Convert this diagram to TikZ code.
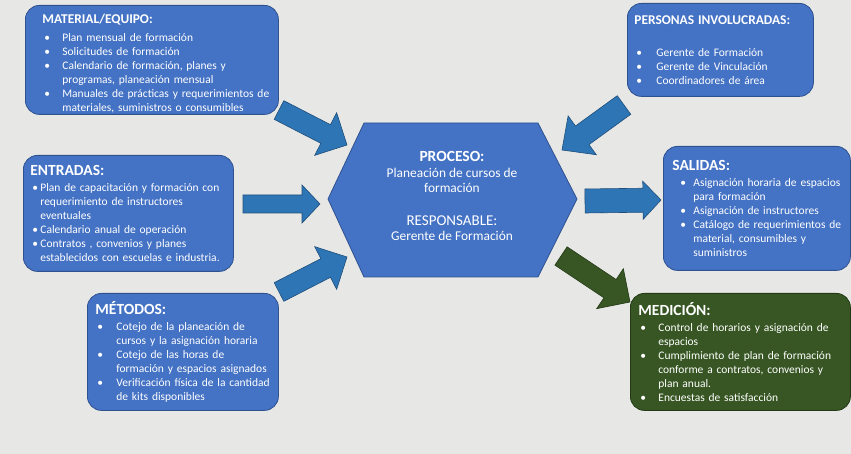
\documentclass[tikz,border=0pt]{standalone}
\usepackage{fontspec}
\setmainfont{Carlito}
\usetikzlibrary{calc}

\definecolor{fondo}{HTML}{E7E8E6}
\definecolor{azulcaja}{HTML}{4472C4}
\definecolor{bordecaja}{HTML}{2F528F}
\definecolor{azulflecha}{HTML}{2E75B6}
\definecolor{bordeflecha}{HTML}{1F4E79}
\definecolor{verde}{HTML}{375623}
\definecolor{bordeverde}{HTML}{243A16}

\newlength{\sangria}
\newcommand{\titulo}[4]{\leftskip=#1\relax\setlength{\sangria}{#2}{\fontsize{#3}{16}\selectfont\bfseries #4}\par\vspace{2pt}}
\newcommand{\punto}[1]{\noindent\hangindent=\sangria\hangafter=1\hbox to\sangria{\hspace{2pt}\textbullet\hfil}#1\par}
\newcommand{\flecha}[6]{%
  \coordinate (base) at ($(#3)!#6!(#2)$);
  \draw[#1] ($(#2)!#4!90:(#3)$) -- ($(base)!#4!90:(#3)$) -- ($(base)!#5!90:(#3)$) -- (#3)
    -- ($(base)!#5!-90:(#3)$) -- ($(base)!#4!-90:(#3)$) -- ($(#2)!#4!-90:(#3)$) -- cycle;}

\tikzset{
  caja/.style={draw=bordecaja, fill=azulcaja, rounded corners=14pt, line width=0.8pt, text=white,
    anchor=north west, inner xsep=0pt, inner ysep=3pt, align=left, font=\fontsize{11.5}{14}\selectfont},
  cajaverde/.style={caja, draw=bordeverde, fill=verde},
  flechaazul/.style={fill=azulflecha, draw=bordeflecha, line width=0.6pt},
  flechaverde/.style={fill=verde, draw=bordeverde, line width=0.6pt}
}

\begin{document}
\begin{tikzpicture}[x=1pt,y=-1pt]
\useasboundingbox[fill=fondo] (0,0) rectangle (851,454);

% cajas
\node[caja, text width=253pt, minimum height=109pt] (material) at (25,5) {\titulo{17pt}{20pt}{13.4}{MATERIAL/EQUIPO:}\vspace{2pt}
  \punto{Plan mensual de formación}
  \punto{Solicitudes de formación}
  \punto{Calendario de formación, planes y\newline programas, planeación mensual}
  \punto{Manuales de prácticas y requerimientos de\newline materiales, suministros o consumibles}\vspace{-8pt}};
\node[caja, text width=210pt, minimum height=116pt] (entradas) at (23,155) {\titulo{7pt}{10pt}{15.5}{ENTRADAS:}
  \punto{Plan de capacitación y formación con\newline requerimiento de instructores\newline eventuales}
  \punto{Calendario anual de operación}
  \punto{Contratos , convenios y planes\newline establecidos con escuelas e industria.}};
\node[caja, text width=191pt, minimum height=117pt] (metodos) at (87,293) {\titulo{8pt}{21pt}{15.5}{MÉTODOS:}
  \punto{Cotejo de la planeación de\newline cursos y la asignación horaria}
  \punto{Cotejo de las horas de\newline formación y espacios asignados}
  \punto{Verificación física de la cantidad\newline de kits disponibles}};
\node[caja, text width=186pt, minimum height=93pt] (personas) at (627,3) {\titulo{7pt}{22pt}{13.4}{PERSONAS INVOLUCRADAS:}\vspace{16pt}
  \punto{Gerente de Formación}
  \punto{Gerente de Vinculación}
  \punto{Coordinadores de área}};
\node[caja, text width=187pt, minimum height=124pt] (salidas) at (663,146) {\titulo{15pt}{15pt}{15.5}{\hspace*{-6pt}SALIDAS:}
  \punto{Asignación horaria de espacios\newline para formación}
  \punto{Asignación de instructores}
  \punto{Catálogo de requerimientos de\newline material, consumibles y\newline suministros}};
\node[cajaverde, text width=220pt, minimum height=117pt] (medicion) at (630,293) {\titulo{8pt}{20pt}{15.5}{MEDICIÓN:}
  \punto{Control de horarios y asignación de\newline espacios}
  \punto{Cumplimiento de plan de formación\newline conforme a contratos, convenios y\newline plan anual.}
  \punto{Encuestas de satisfacción}};

% proceso
\draw[fill=azulcaja, draw=bordecaja, line width=0.8pt] (328,199) -- (364,123) -- (538,123) -- (577,199) -- (538,277) -- (364,277) -- cycle;
\node[text=white, align=center, font=\fontsize{13.4}{15.5}\selectfont] (proceso) at (452,196)
  {{\fontsize{15.5}{16}\selectfont\bfseries PROCESO:}\\Planeación de cursos de\\formación\\[17pt]
   {\fontsize{15}{16}\selectfont RESPONSABLE:}\\Gerente de Formación};

% flechas
\coordinate (m1) at (279,110); \coordinate (m2) at (347,145);
\coordinate (p1) at (624,105); \coordinate (p2) at (562,150);
\coordinate (e1) at (243,204); \coordinate (e2) at (320,204);
\coordinate (s1) at (585,201); \coordinate (s2) at (661,200);
\coordinate (t1) at (279,292); \coordinate (t2) at (347,257);
\coordinate (d1) at (561,256); \coordinate (d2) at (630,302);
\flecha{flechaazul}{m1}{m2}{10.5pt}{24pt}{24pt}
\flecha{flechaazul}{p1}{p2}{11.5pt}{24pt}{25pt}
\flecha{flechaazul}{e1}{e2}{9pt}{19pt}{18pt}
\flecha{flechaazul}{s1}{s2}{12pt}{19pt}{18pt}
\flecha{flechaazul}{t1}{t2}{10.5pt}{24pt}{24pt}
\flecha{flechaverde}{d1}{d2}{11pt}{24pt}{24pt}

\end{tikzpicture}
\end{document}
